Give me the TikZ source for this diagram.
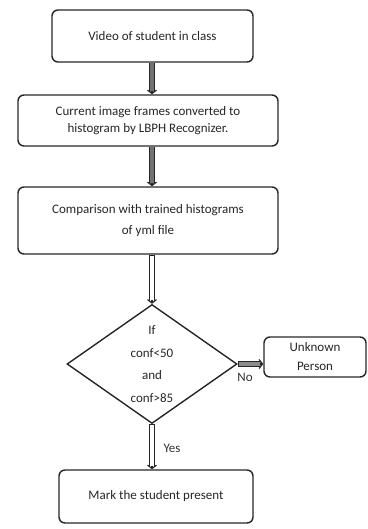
\documentclass[tikz,border=0pt]{standalone}
\usepackage{fontspec}
\setmainfont{Carlito}
\usetikzlibrary{shapes.geometric,arrows.meta,calc}
\begin{document}
\begin{tikzpicture}[x=1pt,y=-1pt,
  every node/.style={font=\fontsize{13}{15}\selectfont, text=black!85},
  procbox/.style={draw=black!85, line width=1.4pt, rounded corners=6pt, align=center, inner sep=0pt},
  decbox/.style={draw=black!85, line width=1.4pt, diamond, aspect=1.43, align=center, inner sep=0pt},
  shaftout/.style={draw=black!85, line width=6.4pt, shorten >=3pt},
  shaftin/.style={draw=#1, line width=3.8pt, shorten >=2pt, shorten <=0.8pt},
  tipline/.style={draw=black!85, line width=1.1pt, -{Straight Barb[length=3.5pt,width=9pt]}},
  lbl/.style={font=\fontsize{13}{14}\selectfont, text=black!80}
]
\useasboundingbox (0,0) rectangle (367,529);
\node[procbox, minimum width=201pt, minimum height=52pt] (b1) at (152.5,36) {Video of student in class};
\node[procbox, minimum width=260pt, minimum height=51pt, font=\fontsize{13}{17}\selectfont] (b2) at (148,120.5) {Current image frames converted to\\histogram by LBPH Recognizer.};
\node[procbox, minimum width=260pt, minimum height=67pt, font=\fontsize{13}{21}\selectfont] (b3) at (148,220.5) {Comparison with trained histograms\\of yml file};
\node[decbox, minimum width=170pt, minimum height=119pt, font=\fontsize{13}{22.5}\selectfont] (d) at (152,364) {If\\conf<50\\and\\conf>85};
\node[procbox, minimum width=102pt, minimum height=40pt, font=\fontsize{13}{19}\selectfont] (u) at (315,357) {Unknown\\Person};
\node[procbox, minimum width=194pt, minimum height=53pt] (b5) at (156,496.5) {Mark the student present};
\coordinate (ax) at (152,0);
% arrow 1
\draw[shaftout] (b1.south -| ax) -- (b2.north -| ax);
\draw[shaftin=black!55] (b1.south -| ax) -- (b2.north -| ax);
\draw[tipline] ($(b2.north -| ax)+(0,-3.5)$) -- (b2.north -| ax);
% arrow 2
\draw[shaftout] (b2.south -| ax) -- (b3.north -| ax);
\draw[shaftin=black!55] (b2.south -| ax) -- (b3.north -| ax);
\draw[tipline] ($(b3.north -| ax)+(0,-3.5)$) -- (b3.north -| ax);
% arrow 3
\draw[shaftout] (b3.south -| d.north) -- (d.north);
\draw[shaftin=white] (b3.south -| d.north) -- (d.north);
\draw[tipline] ($(d.north)+(0,-3.5)$) -- (d.north);
% No arrow
\draw[shaftout] (d.east) -- (u.west |- d.east);
\draw[shaftin=black!45] (d.east) -- (u.west |- d.east);
\draw[tipline] ($(u.west |- d.east)+(-3.5,0)$) -- (u.west |- d.east);
% Yes arrow
\draw[shaftout] (d.south) -- (b5.north -| d.south);
\draw[shaftin=white] (d.south) -- (b5.north -| d.south);
\draw[tipline] ($(b5.north -| d.south)+(0,-3.5)$) -- (b5.north -| d.south);
\node[lbl] (no) at (245,377) {No};
\node[lbl] (yes) at (172,448) {Yes};
\end{tikzpicture}
\end{document}
